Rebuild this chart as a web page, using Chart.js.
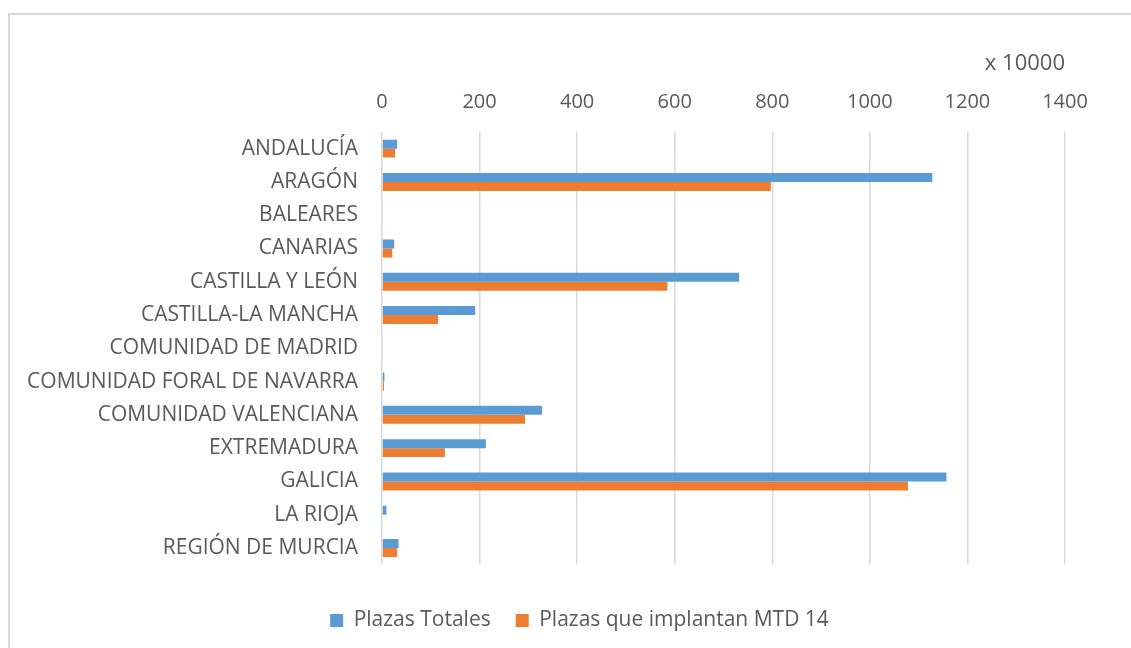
<!DOCTYPE html>
<html>
<head>
<meta charset="utf-8">
<script src="https://cdn.jsdelivr.net/npm/chart.js@4.4.1/dist/chart.umd.min.js"></script>
<style>
  html, body { margin: 0; padding: 0; background: #ffffff; overflow: hidden; }
  #frame {
    position: absolute; left: 8px; top: 13px; width: 1200px; height: 700px;
    border: 2px solid #d9d9d9; box-sizing: border-box;
  }
  #wrap { position: absolute; left: 0; top: 0; width: 1131px; height: 648px; }
</style>
</head>
<body>
<div id="frame"></div>
<div id="wrap"><canvas id="chart" width="1131" height="648"></canvas></div>
<script>
// Comunidades autónomas
const categories = [
  'ANDALUCÍA', 'ARAGÓN', 'BALEARES', 'CANARIAS', 'CASTILLA Y LEÓN',
  'CASTILLA-LA MANCHA', 'COMUNIDAD DE MADRID', 'COMUNIDAD FORAL DE NAVARRA',
  'COMUNIDAD VALENCIANA', 'EXTREMADURA', 'GALICIA', 'LA RIOJA', 'REGIÓN DE MURCIA'
];
// Plazas (x 10000)
const plazasTotales = [31, 1128, 0, 25, 732, 191, 0, 5, 328, 213, 1157, 9, 34];
const plazasMTD14   = [27, 797, 0, 21, 585, 115, 0, 4, 293, 129, 1078, 0, 31];

const seriesNames = ['Plazas Totales', 'Plazas que implantan MTD 14'];
const axisUnit = 'x 10000';

const textColor = '#595959';
const fontFamily = '"Open Sans", "Liberation Sans", sans-serif';

// Centre the legend under the span from the category labels to the plot's right edge
const legendOffset = {
  id: 'legendOffset',
  afterLayout(chart, args, opts) {
    const lg = chart.legend;
    if (!lg) return;
    lg.left += opts.shift;
    lg.width = lg.right - lg.left;
  }
};

new Chart(document.getElementById('chart'), {
  type: 'bar',
  data: {
    labels: categories,
    datasets: [
      { label: seriesNames[0], data: plazasTotales, backgroundColor: '#5B9BD5' },
      { label: seriesNames[1], data: plazasMTD14, backgroundColor: '#ED7D31' }
    ]
  },
  options: {
    indexAxis: 'y',
    responsive: false,
    animation: false,
    datasets: { bar: { categoryPercentage: 0.54, barPercentage: 1.0 } },
    layout: { padding: { left: 0, right: 66, top: 41, bottom: 7 } },
    scales: {
      x: {
        position: 'top',
        min: 0, max: 1400,
        ticks: {
          stepSize: 200, color: textColor, padding: 18,
          font: { family: fontFamily, size: 20 },
          callback: (v) => String(v)
        },
        grid: { color: '#d9d9d9', lineWidth: 1.5, drawTicks: false },
        border: { display: false },
        title: {
          display: true, text: axisUnit, align: 'end', color: textColor,
          font: { family: fontFamily, size: 22 }, padding: { top: 10, bottom: 0 }
        },
        afterFit(scale) { scale.height = 91; }
      },
      y: {
        ticks: { color: textColor, padding: 24, font: { family: fontFamily, size: 21 } },
        grid: { display: false, drawTicks: false },
        border: { display: false },
        afterFit(scale) { scale.width = 382; }
      }
    },
    plugins: {
      tooltip: { enabled: false },
      legendOffset: { shift: 94 },
      legend: {
        position: 'bottom',
        title: { display: true, text: '', padding: { top: 0, bottom: 6 } },
        labels: {
          color: textColor, boxWidth: 13, boxHeight: 13, padding: 25,
          font: { family: fontFamily, size: 21 }
        }
      }
    }
  },
  plugins: [legendOffset]
});
</script>
</body>
</html>
